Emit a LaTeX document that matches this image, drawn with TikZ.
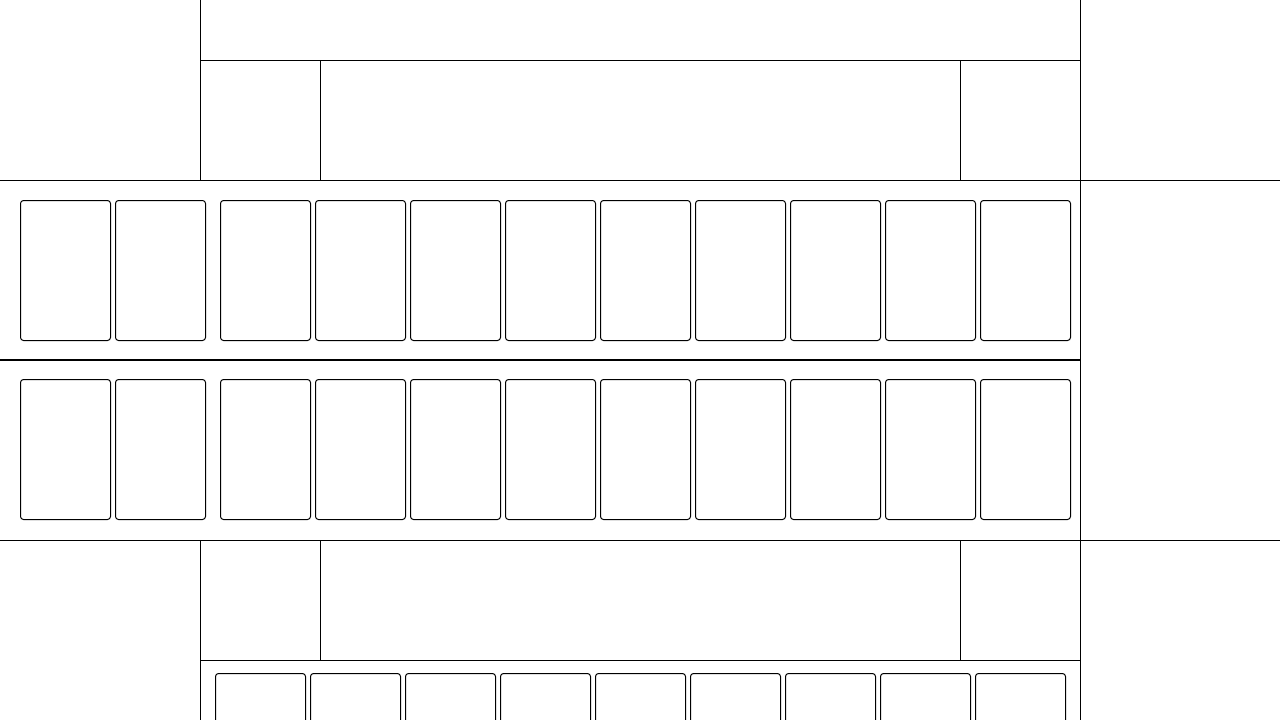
\documentclass[tikz,border=0pt]{standalone}
\begin{document}
\begin{tikzpicture}[x=1pt,y=-1pt,line width=1pt,
  card/.style={draw,rounded corners=3pt,line width=1pt}]
\useasboundingbox (0,0) rectangle (1280,720);
% frame lines
\draw (200.5,0) -- (200.5,180.5);
\draw (1080.5,0) -- (1080.5,720);
\draw (200.5,60.5) -- (1080.5,60.5);
\draw (0,180.5) -- (1280,180.5);
\draw (320.5,60.5) -- (320.5,180.5);
\draw (960.5,60.5) -- (960.5,180.5);
\draw[line width=2pt] (0,360) -- (1080.5,360);
\draw (0,540.5) -- (1280,540.5);
\draw (200.5,540.5) -- (200.5,720);
\draw (320.5,540.5) -- (320.5,660.5);
\draw (960.5,540.5) -- (960.5,660.5);
\draw (200.5,660.5) -- (1080.5,660.5);
% cards row 1 and 2
\foreach \x/\n in {20/a,115/b,220/c,315/d,410/e,505/f,600/g,695/h,790/i,885/j,980/k}{
  \draw[card] (\x.5,200.5) rectangle ++(90,140);
  \draw[card] (\x.5,379.5) rectangle ++(90,140);
}
% bottom row
\foreach \x in {215,310,405,500,595,690,785,880,975}{
  \draw[card] (\x.5,673.5) rectangle ++(90,140);
}
\end{tikzpicture}
\end{document}
